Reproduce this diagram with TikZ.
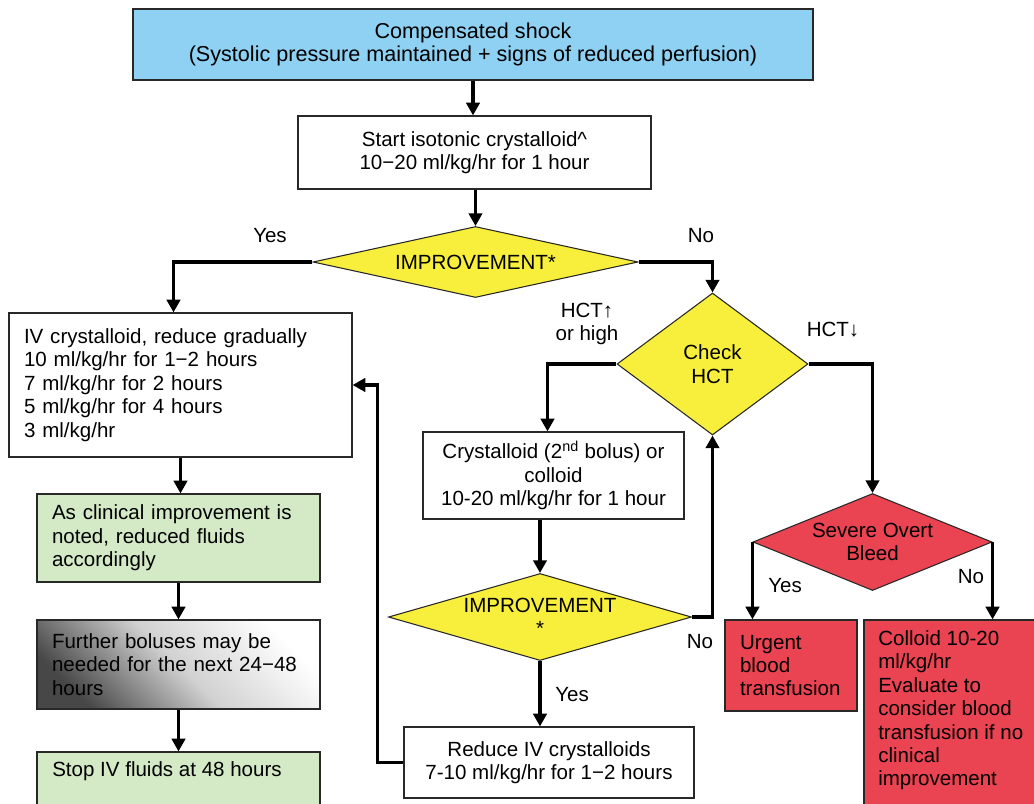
\documentclass[tikz,border=0pt]{standalone}
\usepackage{fontspec}
\setmainfont{Liberation Sans}
\usetikzlibrary{shapes.geometric,arrows.meta,calc}
\definecolor{cblue}{RGB}{142,209,243}
\definecolor{cgreen}{RGB}{212,233,197}
\definecolor{cyellow}{RGB}{248,238,60}
\definecolor{cred}{RGB}{234,67,81}
\definecolor{cedge}{RGB}{40,40,40}
\newcommand\myfont{\fontsize{15.4}{17.6}\selectfont}
\newcommand\mytopfont{\fontsize{16.2}{17.4}\selectfont}
\begin{document}
\begin{tikzpicture}[x=0.75pt,y=-0.75pt,
  box/.style={draw=cedge, line width=0.9pt, rectangle, inner sep=0pt, align=center, font=\myfont},
  lbox/.style={box, align=left, inner xsep=11.25pt},
  dia/.style={draw=cedge, line width=0.8pt, diamond, inner sep=0pt, align=center, font=\myfont},
  arr/.style={line width=2.3pt, -{Triangle[length=9.5pt,width=10pt]}},
  lbl/.style={inner sep=0pt, font=\myfont}]
\useasboundingbox (0,0) rectangle (1034,803);

% boxes
\node[box, fill=cblue, font=\mytopfont, minimum width=510pt, minimum height=53.25pt] (top) at (473,44.5)
  {Compensated shock\\(Systolic pressure maintained + signs of reduced perfusion)};
\node[box, minimum width=264.75pt, minimum height=54.75pt] (start) at (474.5,152.5)
  {Start isotonic crystalloid\^{}\\10−20 ml/kg/hr for 1 hour};
\node[dia, fill=cyellow, aspect=4.58, minimum width=243.75pt, minimum height=53.25pt] (dia1) at (475.5,262)
  {IMPROVEMENT*};
\node[lbox, text width=234.75pt, minimum width=257.25pt, minimum height=108pt] (iv) at (180.5,385)
  {IV crystalloid, reduce gradually\\10 ml/kg/hr for 1−2 hours\\7 ml/kg/hr for 2 hours\\5 ml/kg/hr for 4 hours\\3 ml/kg/hr};
\node[lbox, fill=cgreen, text width=189.75pt, minimum width=212.25pt, minimum height=66pt] (green1) at (178.5,538)
  {As clinical improvement is\\noted, reduced fluids\\accordingly};
\node[lbox, top color=white, bottom color=black!72, middle color=black!18, shading angle=-45,
  text width=189.75pt, minimum width=212.25pt, minimum height=66.75pt] (grad) at (178.5,664.5)
  {Further boluses may be\\needed for the next 24−48\\hours};
\node[box, fill=cgreen, minimum width=212.25pt, minimum height=58.5pt] (stop) at (178.5,791) {};
\node[lbl, anchor=west] (stoptxt) at (52,771) {Stop IV fluids at 48 hours};

\node[dia, fill=cyellow, aspect=1.345, minimum width=143.25pt, minimum height=106.5pt] (check) at (712.5,364)
  {Check\\HCT};
\node[box, minimum width=195.75pt, minimum height=65.25pt] (crys) at (553.5,475.5)
  {Crystalloid (2\textsuperscript{nd} bolus) or\\colloid\\10-20 ml/kg/hr for 1 hour};
\node[dia, fill=cyellow, aspect=3.48, minimum width=227.25pt, minimum height=65.25pt] (dia2) at (540,617)
  {IMPROVEMENT\\*};
\node[box, minimum width=217.5pt, minimum height=53.25pt] (reduce) at (549,762.5)
  {Reduce IV crystalloids\\7-10 ml/kg/hr for 1−2 hours};

\node[dia, fill=cred, aspect=2.46, minimum width=179.25pt, minimum height=72.75pt] (sev) at (872.5,542)
  {Severe Overt\\Bleed};
\node[lbox, fill=cred, text width=76.5pt, minimum width=99pt, minimum height=68.25pt] (urgent) at (791,665.5)
  {Urgent\\blood\\transfusion};
\node[box, fill=cred, minimum width=139.5pt, minimum height=157.5pt] (colloid) at (957,725) {};
\node[lbl, anchor=north west, align=left] (colltxt) at (878,630)
  {Colloid 10-20\\ml/kg/hr\\Evaluate to\\consider blood\\transfusion if no\\clinical\\improvement};

% labels
\node[lbl] (yes1) at (270,236) {Yes};
\node[lbl] (no1) at (701,236) {No};
\node[lbl, align=center] (hctup) at (587,324) {HCT↑\\or high};
\node[lbl] (hctdn) at (833,330) {HCT↓};
\node[lbl] (no2) at (700,642) {No};
\node[lbl] (yes2) at (572,695) {Yes};
\node[lbl] (yes3) at (785,586) {Yes};
\node[lbl] (no3) at (971,577) {No};

% connectors
\draw[arr] (top.south) -- (top.south |- start.north);
\draw[arr] (start.south -| dia1.north) -- (dia1.north);
\draw[arr] (dia1.west) -| ($(iv.north)+(-7,0)$);
\draw[arr] (dia1.east) -| (check.north);
\draw[arr] (check.west) -| ($(crys.north)+(-6,0)$);
\draw[arr] (check.east) -| (sev.north);
\draw[arr] (crys.south -| dia2.north) -- (dia2.north);
\draw[arr] (dia2.east) -| (check.south);
\draw[arr] (dia2.south) -- (dia2.south |- reduce.north);
\draw[arr] (reduce.west) -- ++(-26,0) |- (iv.east);
\draw[arr] (iv.south) -- (iv.south |- green1.north);
\draw[arr] (green1.south) -- (green1.south |- grad.north);
\draw[arr] (grad.south) -- (grad.south |- stop.north);
\draw[arr] (sev.west) -- (sev.west |- urgent.north);
\draw[arr] (sev.east) -- (sev.east |- colloid.north);
\end{tikzpicture}
\end{document}
